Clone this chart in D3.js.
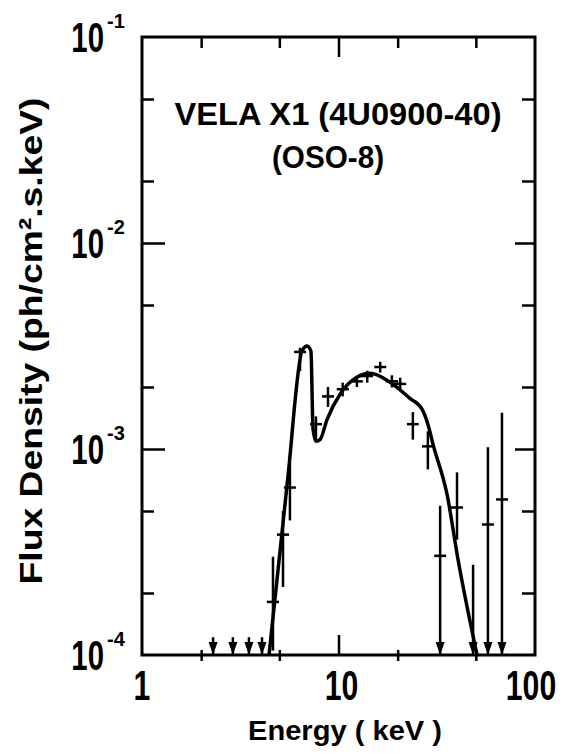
<!DOCTYPE html>
<html>
<head>
<meta charset="utf-8">
<script src="https://cdn.jsdelivr.net/npm/d3@7"></script>
<style>
  body { margin: 0; background: #fff; }
  text { font-family: "Liberation Sans", Arial, sans-serif; font-weight: bold; fill: #000; }
</style>
</head>
<body>
<div class="chart"></div>
<script>
// measured points (keV, ph/cm2.s.keV)
var energy   = [4.64, 5.22, 5.66, 6.37, 7.68, 8.84, 10.5, 12.4, 14.0, 16.3, 18.7, 20.6, 23.9, 28.5, 32.9, 40.1, 57.6, 67.9];
var energyLo = [4.32, 4.86, 5.27, 5.94, 7.16, 8.24, 9.8, 11.6, 13.0, 15.2, 17.4, 19.2, 22.3, 26.6, 30.7, 37.4, 53.7, 63.3];
var energyHi = [4.98, 5.60, 6.07, 6.84, 8.24, 9.49, 11.3, 13.3, 15.0, 17.5, 20.1, 22.1, 25.6, 30.6, 35.3, 43.0, 61.8, 72.9];
var flux     = [1.81e-4, 3.84e-4, 6.5e-4, 2.96e-3, 1.32e-3, 1.80e-3, 1.95e-3, 2.13e-3, 2.26e-3, 2.50e-3, 2.13e-3, 2.07e-3, 1.32e-3, 1.03e-3, 3.03e-4, 5.2e-4, 4.3e-4, 5.69e-4];
var fluxLo   = [1.05e-4, 2.14e-4, 4.5e-4, 2.39e-3, 1.11e-3, 1.6e-3, 1.8e-3, 2.0e-3, 2.1e-3, 2.35e-3, 1.99e-3, 1.93e-3, 1.11e-3, 7.96e-4, null, 3.63e-4, null, null];
var fluxHi   = [3.0e-4, 5.0e-4, 8.6e-4, 3.1e-3, 1.44e-3, 2.0e-3, 2.1e-3, 2.25e-3, 2.4e-3, 2.65e-3, 2.28e-3, 2.22e-3, 1.51e-3, 1.22e-3, 5.3e-4, 7.7e-4, 1.02e-3, 1.5e-3];

// upper limits
var limitE = [2.30, 2.90, 3.50, 4.08, 48.4];
var limitF = [1.22e-4, 1.22e-4, 1.22e-4, 1.22e-4, 2.74e-4];

// fitted model curve
var modelE = [4.43, 5.53, 6.52, 6.92, 7.24, 7.42, 7.68, 8.05, 8.74, 10.2, 12.4, 14.5, 18.3, 23.1, 26.6, 28.5, 30.3, 35.7, 40.6, 50.7];
var modelF = [1.0e-4, 7.35e-4, 2.99e-3, 3.16e-3, 2.99e-3, 1.25e-3, 1.09e-3, 1.11e-3, 1.39e-3, 1.85e-3, 2.23e-3, 2.33e-3, 2.11e-3, 1.76e-3, 1.56e-3, 1.32e-3, 1.05e-3, 6.0e-4, 2.9e-4, 1.0e-4];

var xMajor = [10], xMinor = [2, 5, 20, 50];
var xLabels = [1, 10, 100];
var yMajor = [1e-2, 1e-3], yMinor = [2e-4, 5e-4, 2e-3, 5e-3, 2e-2, 5e-2];
var yLabels = [1e-1, 1e-2, 1e-3, 1e-4];

var W = 568, H = 753;
var svg = d3.select('.chart').append('svg')
  .attr('width', W).attr('height', H);

var x = d3.scaleLog().domain([1, 100]).range([142, 535]);
var y = d3.scaleLog().domain([1e-4, 1e-1]).range([655, 37]);
var yBot = y.range()[0], yTop = y.range()[1];
var xL = x.range()[0], xR = x.range()[1];

function ticks(axis, pos, values, size) {
  var g = svg.append('g').attr('transform', pos)
    .call(axis.tickValues(values).tickSize(size).tickFormat(''));
  g.select('.domain').remove();
  g.selectAll('line').attr('stroke', '#000').attr('stroke-width', 2.5);
}
// bottom: minor ticks cross the axis, major goes inward
ticks(d3.axisBottom(x), 'translate(0,' + yBot + ')', xMinor, 6);
ticks(d3.axisBottom(x), 'translate(0,' + yBot + ')', xMinor, -5);
ticks(d3.axisBottom(x), 'translate(0,' + yBot + ')', xMajor, -20);
ticks(d3.axisTop(x), 'translate(0,' + yTop + ')', xMinor, -11);
ticks(d3.axisTop(x), 'translate(0,' + yTop + ')', xMajor, -20);
ticks(d3.axisLeft(y), 'translate(' + xL + ',0)', yMinor, -12);
ticks(d3.axisLeft(y), 'translate(' + xL + ',0)', yMajor, -23);
ticks(d3.axisRight(y), 'translate(' + xR + ',0)', yMinor, -13);
ticks(d3.axisRight(y), 'translate(' + xR + ',0)', yMajor, -20);

svg.append('rect')
  .attr('x', xL).attr('y', yTop)
  .attr('width', xR - xL).attr('height', yBot - yTop)
  .attr('fill', 'none').attr('stroke', '#000').attr('stroke-width', 3);

// y labels 10^-n  (tall narrow digits)
yLabels.forEach(function(v) {
  var yy = y(v);
  svg.append('text').text('10')
    .attr('transform', 'translate(104,' + (yy + 15) + ') scale(0.7,1)')
    .attr('text-anchor', 'end')
    .attr('font-size', 42);
  svg.append('text').text('-' + Math.round(-Math.log10(v)))
    .attr('x', 107).attr('y', yy - 9)
    .attr('font-size', 20);
});

// x labels
xLabels.forEach(function(v) {
  var dx = v === 10 ? 3 : v === 100 ? -4 : 0;
  svg.append('text').text(String(v))
    .attr('transform', 'translate(' + (x(v) + dx) + ',700) scale(0.72,1)')
    .attr('text-anchor', 'middle')
    .attr('font-size', 42);
});

// axis titles
svg.append('text').text('Energy ( keV )')
  .attr('x', 345).attr('y', 740)
  .attr('text-anchor', 'middle').attr('font-size', 28)
  .attr('textLength', 194).attr('lengthAdjust', 'spacingAndGlyphs');

svg.append('text').text('Flux Density (ph/cm\u00B2.s.keV)')
  .attr('transform', 'translate(42,' + 341 + ') rotate(-90)')
  .attr('text-anchor', 'middle').attr('font-size', 32)
  .attr('textLength', 487).attr('lengthAdjust', 'spacingAndGlyphs');

// source title
svg.append('text').text('VELA X1 (4U0900-40)')
  .attr('x', 338).attr('y', 125)
  .attr('text-anchor', 'middle').attr('font-size', 32)
  .attr('textLength', 327).attr('lengthAdjust', 'spacingAndGlyphs');
svg.append('text').text('(OSO-8)')
  .attr('x', 328).attr('y', 168)
  .attr('text-anchor', 'middle').attr('font-size', 32)
  .attr('textLength', 112).attr('lengthAdjust', 'spacingAndGlyphs');

// model curve
var model = modelE.map(function(e, i) { return [e, modelF[i]]; });
var line = d3.line()
  .x(function(d) { return x(d[0]); })
  .y(function(d) { return y(d[1]); })
  .curve(d3.curveMonotoneX);
svg.append('path').datum(model)
  .attr('d', line)
  .attr('fill', 'none').attr('stroke', '#000')
  .attr('stroke-width', 3.5).attr('stroke-linejoin', 'round');

function arrowHead(xx) {
  svg.append('path')
    .attr('d', 'M' + (xx - 4.5) + ',' + (yBot - 13) + 'L' + (xx + 4.5) + ',' + (yBot - 13) + 'L' + xx + ',' + yBot + 'Z')
    .attr('fill', '#000');
}

// data crosses
var pts = svg.append('g').attr('stroke', '#000').attr('stroke-width', 2.5);
energy.forEach(function(e, i) {
  var lo = fluxLo[i] === null ? y.domain()[0] : fluxLo[i];
  pts.append('line')
    .attr('x1', x(e)).attr('x2', x(e))
    .attr('y1', y(fluxHi[i])).attr('y2', y(lo));
  pts.append('line')
    .attr('x1', x(energyLo[i])).attr('x2', x(energyHi[i]))
    .attr('y1', y(flux[i])).attr('y2', y(flux[i]));
  if (fluxLo[i] === null) arrowHead(x(e));
});

// upper limits
limitE.forEach(function(e, i) {
  pts.append('line')
    .attr('x1', x(e)).attr('x2', x(e))
    .attr('y1', y(limitF[i])).attr('y2', yBot);
  arrowHead(x(e));
});
</script>
</body>
</html>
